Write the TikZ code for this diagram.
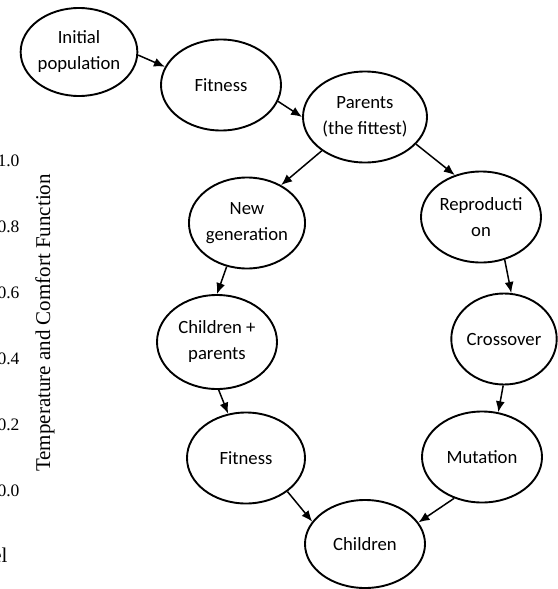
\documentclass[tikz,border=0pt]{standalone}
\usepackage{fontspec}
\setmainfont{Liberation Serif}
\newfontfamily\calib{Carlito}
\usetikzlibrary{arrows.meta,shapes.geometric}

\begin{document}
\begin{tikzpicture}[x=1pt,y=-1pt,
  stage/.style={draw,ellipse,line width=1.9pt,inner sep=0pt,minimum width=120pt,minimum height=91pt,align=center,font=\calib\fontsize{18.7}{26}\selectfont},
  flow/.style={line width=1.5pt,-{Latex[length=11pt,width=9pt]}},
  tick/.style={anchor=base east,font=\fontsize{17.5}{20}\selectfont}]
\useasboundingbox (0,0) rectangle (557,589);
% axis remains on the left
\foreach \v/\y in {1.0/166,0.8/232,0.6/298,0.4/364,0.2/430,0.0/496}\node[tick] at (23,\y){\v};
\node[rotate=90,anchor=base,font=\fontsize{21}{24}\selectfont] (ylab) at (50,323){Temperature and Comfort Function};
\node[anchor=base east,font=\fontsize{21}{24}\selectfont] (xlab) at (11,562){el};
% the loop
\node[stage,minimum width=116pt,minimum height=88pt] (init) at (79,52){Initial\\population};
\node[stage] (fit) at (221,85){Fitness};
\node[stage,minimum width=124pt] (parents) at (365,117){Parents\\(the fittest)};
\node[stage,minimum width=116pt] (newgen) at (247,223){New\\generation};
\node[stage] (repro) at (481,217){Reproducti\\on};
\node[stage,minimum height=94pt] (chpar) at (217,342){Children +\\parents};
\node[stage,minimum width=104pt] (cross) at (504,339){Crossover};
\node[stage,minimum width=118pt] (fit2) at (246,458){Fitness};
\node[stage] (mut) at (482,457){Mutation};
\node[stage,minimum height=88pt] (kids) at (365,544){Children};
\draw[flow] (init.-3)--(fit.162);\draw[flow] (fit.-16)--(parents.180);
\draw[flow] (parents.-142)--(newgen.48);\draw[flow] (parents.-28)--(repro.122);
\draw[flow] (repro.-61)--(cross.81);\draw[flow] (cross.-91)--(mut.70);
\draw[flow] (newgen.-115)--(chpar.90);\draw[flow] (chpar.-88)--(fit2.112);
\draw[flow] (fit2.-39)--(kids.157);\draw[flow] (mut.-124)--(kids.22);
\end{tikzpicture}
\end{document}
